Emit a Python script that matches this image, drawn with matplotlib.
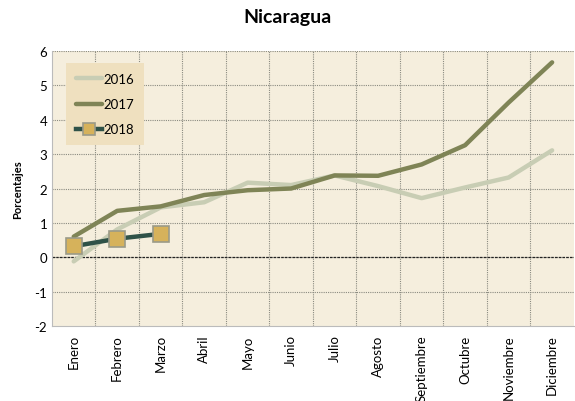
import matplotlib.pyplot as plt
import numpy as np

plt.rcParams['font.family'] = ['Lato', 'DejaVu Sans']
plt.rcParams['axes.unicode_minus'] = False

months = ['Enero', 'Febrero', 'Marzo', 'Abril', 'Mayo', 'Junio', 'Julio',
          'Agosto', 'Septiembre', 'Octubre', 'Noviembre', 'Diciembre']
vals_2016 = [-0.12, 0.81, 1.45, 1.6, 2.17, 2.1, 2.38, 2.07, 1.72, 2.03, 2.32, 3.11]
vals_2017 = [0.6, 1.35, 1.48, 1.81, 1.95, 2.0, 2.38, 2.37, 2.7, 3.26, 4.5, 5.67]
vals_2018 = [0.32, 0.54, 0.68]

fig = plt.figure(figsize=(5.75, 4.02), dpi=100)
ax = fig.add_axes([0.0904, 0.1866, 0.9076, 0.684])
ax.set_facecolor('#F5EEDD')

x = np.arange(len(months))
ax.plot(x, vals_2016, color='#C8CDB4', lw=3.2, label='2016', solid_capstyle='round')
ax.plot(x, vals_2017, color='#7F8456', lw=3.2, label='2017', solid_capstyle='round')
ax.plot(x[:len(vals_2018)], vals_2018, color='#2F5248', lw=3.2, label='2018',
        marker='s', ms=11, mfc='#D6B25B', mec='#9A9A88', mew=1.2)

ax.set_xlim(-0.5, len(months) - 0.5)
ax.set_ylim(-2, 6)
ax.set_yticks(range(-2, 7))
ax.set_xticks(x)
ax.set_xticklabels(months, rotation=90, fontsize=9)
ax.tick_params(axis='both', length=0, labelsize=9.5)
ax.tick_params(axis='x', pad=6)

# grid between categories
for b in np.arange(0.5, len(months) - 0.5, 1):
    ax.axvline(b, color='#8A8A80', lw=0.8, ls=(0, (1, 1)), zorder=0)
for yv in range(-1, 7):
    ax.axhline(yv, color='#8A8A80', lw=0.8, ls=(0, (1, 1)), zorder=0)
ax.axhline(0, color='#222222', lw=0.9, ls=(0, (2, 1)), zorder=0.5)

for s in ['top', 'right']:
    ax.spines[s].set_visible(False)
for s in ['left', 'bottom']:
    ax.spines[s].set_color('#BBBBBB')

ax.set_ylabel('Porcentajes', fontsize=8, fontweight='bold', labelpad=8)
fig.suptitle('Nicaragua', fontsize=14, fontweight='bold', y=0.978)

leg = ax.legend(loc='upper left', bbox_to_anchor=(0.027, 0.956), fontsize=9.5,
                frameon=True, fancybox=False, handlelength=2.0, handletextpad=0.1,
                labelspacing=1.0, borderpad=0.75, borderaxespad=0, markerscale=0.75)
leg.get_frame().set_facecolor('#EFE0BF')
leg.get_frame().set_edgecolor('none')
leg.get_frame().set_alpha(1)

fig.savefig('out.png', dpi=100)
